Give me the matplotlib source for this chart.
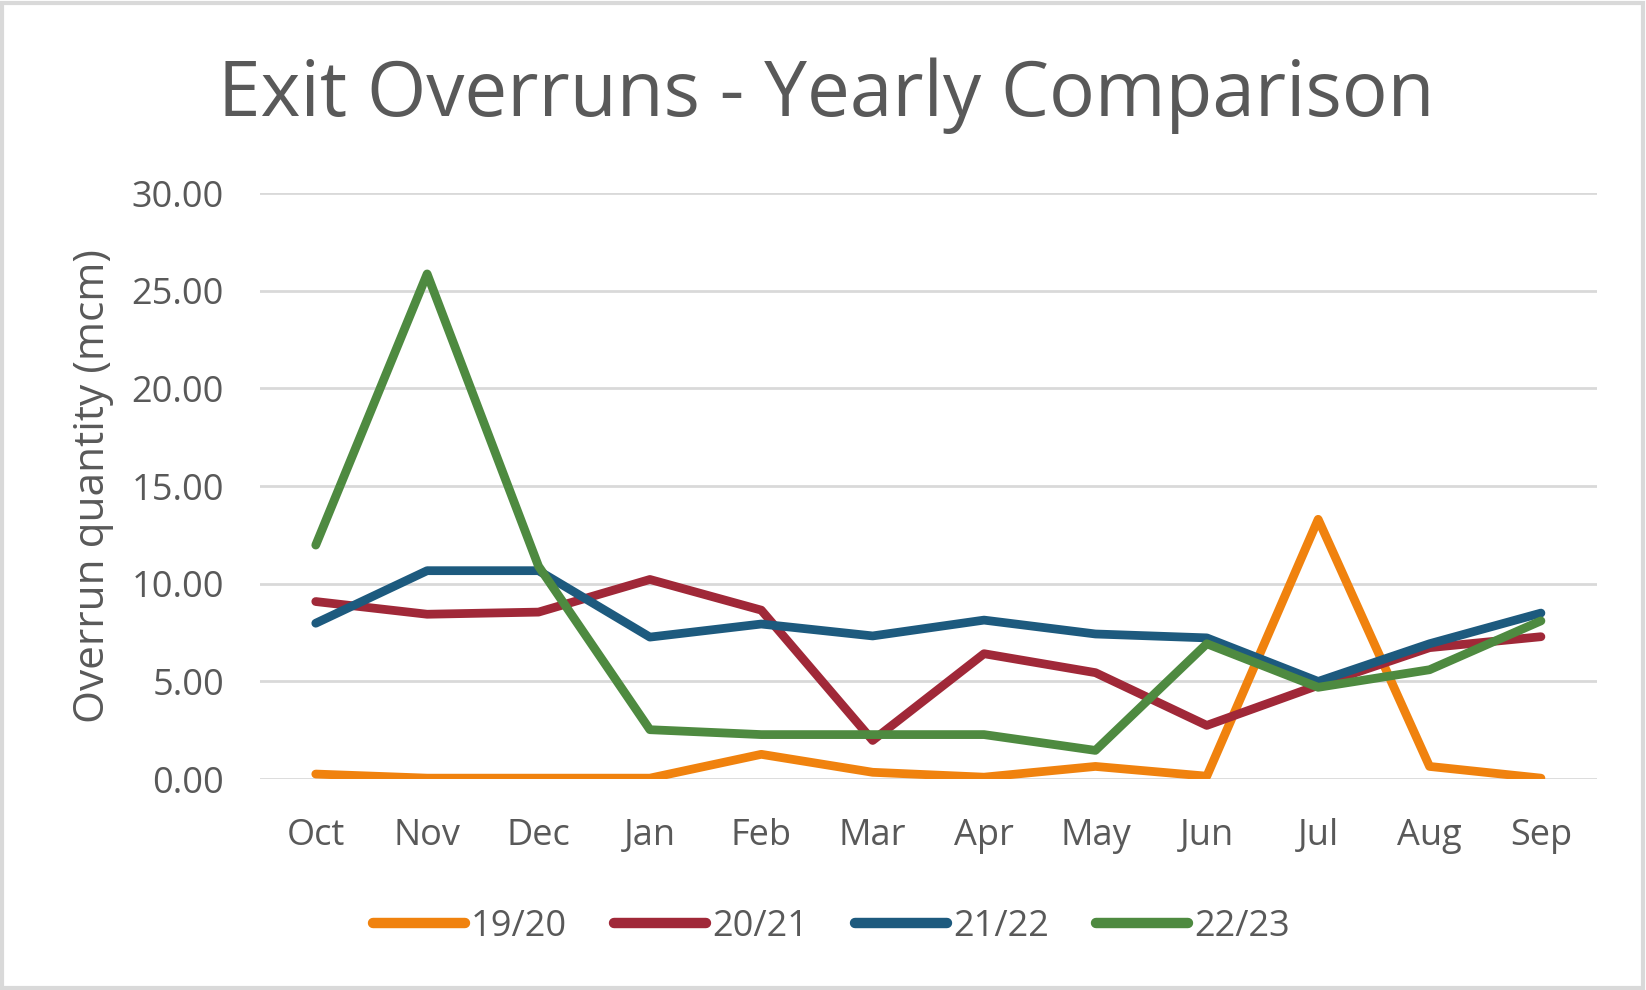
import matplotlib
matplotlib.use("Agg")
import matplotlib.pyplot as plt
from matplotlib.patches import Rectangle

months = ["Oct", "Nov", "Dec", "Jan", "Feb", "Mar", "Apr", "May", "Jun", "Jul", "Aug", "Sep"]
s1920 = [0.26, 0.05, 0.05, 0.05, 1.27, 0.35, 0.1, 0.65, 0.15, 13.3, 0.65, 0.05]
s2021 = [9.09, 8.44, 8.55, 10.22, 8.65, 1.98, 6.42, 5.45, 2.75, 4.8, 6.73, 7.29]
s2122 = [7.98, 10.67, 10.67, 7.27, 7.94, 7.33, 8.14, 7.43, 7.23, 5.0, 6.93, 8.5]
s2223 = [11.98, 25.86, 10.9, 2.53, 2.28, 2.28, 2.28, 1.47, 6.93, 4.7, 5.6, 8.1]
series_labels = ["19/20", "20/21", "21/22", "22/23"]
yticks = [0, 5, 10, 15, 20, 25, 30]

colors = ["#F0820E", "#A02838", "#1D5A7E", "#4E8A40"]
text_color = "#595959"

plt.rcParams['font.family'] = ['Open Sans', 'DejaVu Sans']

fig = plt.figure(figsize=(16.46, 9.9), dpi=100)
fig.patch.set_facecolor("white")
fig.add_artist(Rectangle((0.001, 0.002), 0.997, 0.995, transform=fig.transFigure,
                         fill=False, edgecolor="#D9D9D9", linewidth=3))

ax = fig.add_axes([0.158, 0.213, 0.812, 0.592])
x = list(range(len(months)))
for data, lab, c in zip([s1920, s2021, s2122, s2223], series_labels, colors):
    ax.plot(x, data, color=c, linewidth=6.3, label=lab, solid_capstyle="round",
            solid_joinstyle="round")

ax.set_xlim(-0.5, len(months) - 0.5)
ax.set_ylim(0, 30)
ax.set_yticks(yticks)
ax.set_yticklabels([f"{v:.2f}" for v in yticks])
ax.set_xticks(x)
ax.set_xticklabels(months)
ax.grid(axis="y", color="#D9D9D9", linewidth=2)
ax.set_axisbelow(True)
for s in ax.spines.values():
    s.set_visible(False)
ax.tick_params(axis="both", length=0, labelsize=26, labelcolor=text_color)
ax.tick_params(axis="y", pad=26)
ax.tick_params(axis="x", pad=28)
ax.set_ylabel("Overrun quantity (mcm)", fontsize=30.5, color=text_color)
ax.yaxis.set_label_coords(-0.109, 0.5)

fig.text(0.502, 0.903, "Exit Overruns - Yearly Comparison", ha="center", va="center",
         fontsize=55, color=text_color)

leg = fig.legend(loc="center", bbox_to_anchor=(0.505, 0.064), ncol=4, frameon=False,
                 fontsize=26, handlelength=2.55, handletextpad=0.17, columnspacing=1.3,
                 labelcolor=text_color)
for h in leg.get_lines():
    h.set_linewidth(7.5)
    h.set_solid_capstyle("round")

fig.savefig("out.png", dpi=100)
